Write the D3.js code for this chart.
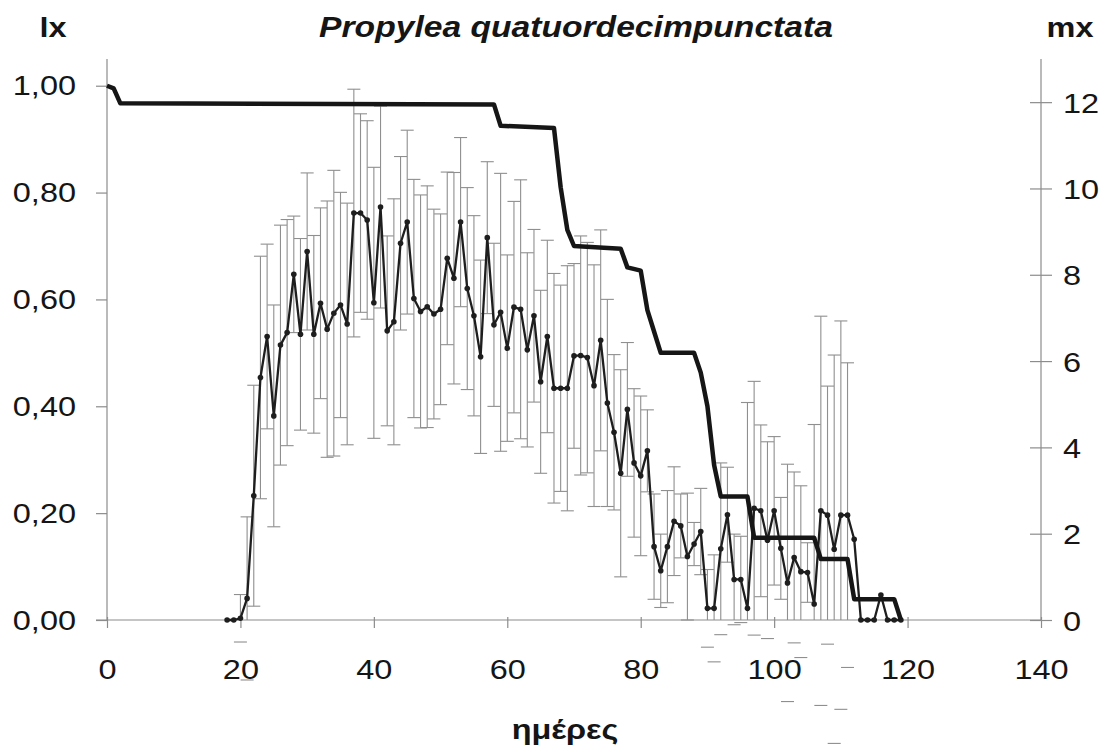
<!DOCTYPE html>
<html><head><meta charset="utf-8">
<script src="https://cdn.jsdelivr.net/npm/d3@7"></script>
<style>
body{margin:0;background:#fff}
svg{display:block}
text{font-family:"Liberation Sans",Arial,sans-serif;fill:#151515}
</style>
</head><body>
<svg id="c" width="1109" height="748"></svg>
<script>
// ---- data ----
const xTicks = [0, 20, 40, 60, 80, 100, 120, 140];
const lxTicks = [0, 0.2, 0.4, 0.6, 0.8, 1.0];
const mxTicks = [0, 2, 4, 6, 8, 10, 12];

// survivorship lx (day, value) at its change points
const lxDays   = [0, 1, 2, 58, 59, 67, 68, 69, 70, 77, 78, 80, 81, 82, 83, 88, 89, 90, 91, 92, 96, 97, 106, 107, 111, 112, 118, 119];
const lxValues = [1.0, 0.995, 0.967, 0.965, 0.925, 0.921, 0.81, 0.73, 0.70, 0.695, 0.66, 0.654, 0.58, 0.54, 0.50, 0.50, 0.463, 0.40, 0.29, 0.231, 0.231, 0.154, 0.154, 0.114, 0.114, 0.039, 0.039, 0];

// fecundity mx, one value per day starting at day 18
const mxFirstDay = 18;
const mxValues = [
  0, 0, 0.04, 0.50, 2.88, 5.62, 6.57, 4.73, 6.37, 6.66,
  8.01, 6.62, 8.54, 6.62, 7.34, 6.74, 7.11, 7.30, 6.86, 9.43,
  9.43, 9.27, 7.35, 9.57, 6.70, 6.91, 8.73, 9.22, 7.45, 7.15,
  7.26, 7.09, 7.20, 8.38, 7.92, 9.22, 7.68, 7.05, 6.10, 8.86,
  6.84, 7.13, 6.30, 7.25, 7.20, 6.26, 7.05, 5.52, 6.57, 5.37,
  5.37, 5.37, 6.12, 6.13, 6.08, 5.43, 6.48, 5.03, 4.35, 3.40,
  4.88, 3.64, 3.34, 3.92, 1.70, 1.14, 1.70, 2.29, 2.18, 1.47,
  1.76, 2.05, 0.27, 0.27, 1.65, 2.44, 0.94, 0.94, 0.27, 2.59,
  2.53, 1.85, 2.53, 1.66, 0.86, 1.45, 1.12, 1.10, 0.37, 2.53,
  2.43, 1.64, 2.43, 2.43, 1.87, 0, 0, 0, 0.58, 0,
  0, 0
];
const mxErr = [
  0, 0, 0.55, 1.89, 2.56, 2.81, 2.14, 2.57, 2.78, 2.62,
  1.35, 2.22, 1.82, 2.29, 2.21, 2.97, 3.31, 2.61, 2.80, 2.87,
  2.30, 2.30, 3.14, 2.34, 2.20, 2.85, 2.01, 2.13, 2.76, 2.70,
  2.80, 2.43, 2.21, 2.00, 2.45, 1.96, 2.34, 2.32, 2.24, 1.76,
  1.89, 3.22, 2.16, 2.45, 3.00, 2.25, 2.00, 2.12, 2.23, 2.66,
  2.39, 2.84, 2.14, 2.77, 2.67, 2.80, 2.56, 2.40, 1.80, 2.40,
  1.55, 1.72, 1.85, 0.95, 1.22, 0.85, 1.30, 1.26, 0.74, 1.47,
  0.50, 1.00, 0.90, 1.24, 1.99, 1.10, 1.05, 1.00, 4.77, 2.94,
  1.99, 2.28, 1.72, 1.18, 2.75, 1.98, 1.99, 0.69, 4.16, 4.51,
  2.99, 4.50, 4.50, 3.53, 0, 0, 0, 0, 0, 0,
  0, 0
];

const titleText = "Propylea quatuordecimpunctata";
const xTitle = "ημέρες";
const leftTitle = "lx";
const rightTitle = "mx";

// ---- layout ----
const L = 107, R = 1041, T = 59, B = 620;
const SX = 1.16; // horizontal stretch of the scanned lettering
const svg = d3.select("#c");

const x = d3.scaleLinear().domain([0, 140]).range([L, R]);
const yL = d3.scaleLinear().domain([0, 1.05]).range([B, T]);
const yR = d3.scaleLinear().domain([0, 13]).range([B, T]);

const axisColor = "#8c8c8c";
const fmtComma = d => d3.format(".2f")(d).replace(".", ",");

// left axis
const gL = svg.append("g").attr("transform", `translate(${L},0)`)
  .call(d3.axisLeft(yL).tickValues(lxTicks).tickFormat(fmtComma).tickSize(11).tickSizeOuter(0));
// right axis
const gR = svg.append("g").attr("transform", `translate(${R},0)`)
  .call(d3.axisRight(yR).tickValues(mxTicks).tickSize(11).tickSizeOuter(0));
// bottom axis
const gB = svg.append("g").attr("transform", `translate(0,${B})`)
  .call(d3.axisBottom(x).tickValues(xTicks).tickSize(8).tickSizeOuter(0));

[gL, gR, gB].forEach(g => {
  g.select(".domain").attr("stroke", axisColor).attr("stroke-width", 1.2);
  g.selectAll(".tick line").attr("stroke", axisColor).attr("stroke-width", 1.2);
  g.selectAll(".tick text").attr("font-size", 28).attr("fill", "#151515")
    .attr("font-family", '"Liberation Sans",Arial,sans-serif');
});
gL.select(".domain").attr("d", `M0,${T}V${B}`);
gR.select(".domain").attr("d", `M0,${T}V${B}`);
gB.select(".domain").attr("d", `M${L - 11},0H${R}`);
gR.selectAll(".tick line").attr("x1", -11).attr("x2", 11);
gB.selectAll(".tick line").attr("y1", -3).attr("y2", 8);

gL.selectAll(".tick text").attr("x", -31 / SX).attr("dy", "0.33em").attr("transform", `scale(${SX},1)`);
gR.selectAll(".tick text").attr("x", 22 / SX).attr("dy", "0.36em").attr("transform", `scale(${SX},1)`);
gB.selectAll(".tick text").attr("y", 59).attr("dy", 0).attr("transform", `scale(${SX},1)`);

// ---- error bars ----
const mxData = mxValues.map((v, i) => ({ day: mxFirstDay + i, v, e: mxErr[i] }));
const errG = svg.append("g").attr("stroke", "#8f8f8f").attr("stroke-width", 1.1).attr("fill", "none");
const capW = 6.5;
mxData.filter(d => d.e > 0).forEach(d => {
  const cx = x(d.day);
  const yHi = yR(d.v + d.e), yLo = yR(d.v - d.e);
  errG.append("line").attr("x1", cx).attr("x2", cx).attr("y1", yHi).attr("y2", Math.min(yLo, B));
  errG.append("line").attr("x1", cx - capW).attr("x2", cx + capW).attr("y1", yHi).attr("y2", yHi);
  errG.append("line").attr("x1", cx - capW).attr("x2", cx + capW).attr("y1", yLo).attr("y2", yLo);
});

// ---- mx line + markers ----
const mxLine = d3.line().x(d => x(d.day)).y(d => yR(d.v));
svg.append("path").datum(mxData).attr("d", mxLine)
  .attr("fill", "none").attr("stroke", "#1e1e1e").attr("stroke-width", 2.3).attr("stroke-linejoin", "round");
svg.append("g").selectAll("circle").data(mxData).join("circle")
  .attr("cx", d => x(d.day)).attr("cy", d => yR(d.v)).attr("r", 2.8).attr("fill", "#1e1e1e");

// ---- lx line ----
const lxData = lxDays.map((d, i) => ({ day: d, v: lxValues[i] }));
svg.append("path").datum(lxData)
  .attr("d", d3.line().x(d => x(d.day)).y(d => yL(d.v)))
  .attr("fill", "none").attr("stroke", "#161616").attr("stroke-width", 4.5).attr("stroke-linejoin", "round");

// ---- titles ----
function label(txt, cx, by, opts) {
  const t = svg.append("text").attr("transform", `translate(${cx},${by}) scale(${SX},1)`)
    .attr("text-anchor", "middle").attr("font-size", opts.size || 28)
    .attr("font-weight", opts.weight || "bold").text(txt);
  if (opts.italic) t.attr("font-style", "italic");
  return t;
}
label(titleText, 576, 37, { italic: true, size: 29 });
label(leftTitle, 53, 37, {});
label(rightTitle, 1070, 37, {});
label(xTitle, 565, 739, {});
</script>
</body></html>
